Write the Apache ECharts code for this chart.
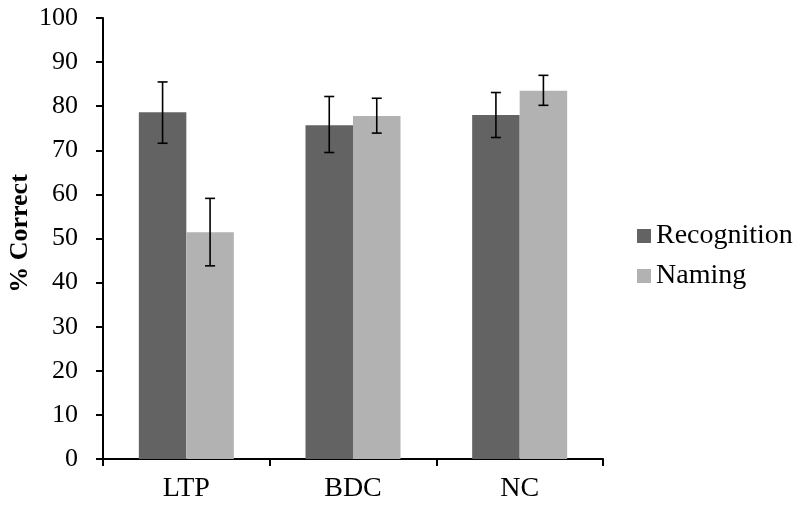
<!DOCTYPE html>
<html><head><meta charset="utf-8">
<script src="https://cdn.jsdelivr.net/npm/echarts@6/dist/echarts.min.js"></script>
<style>html,body{margin:0;padding:0;background:#fff}#c{width:800px;height:507px}</style>
</head><body><div id="c"></div>
<script>
const categories = ['LTP', 'BDC', 'NC'];
const recognition = [78.6, 75.7, 78.0];
const naming = [51.4, 77.8, 83.5];
const recognitionLow = [71.6, 69.5, 72.9];
const recognitionHigh = [85.5, 82.2, 83.1];
const namingLow = [43.8, 73.9, 80.2];
const namingHigh = [59.1, 81.8, 87.0];
const yTicks = [0, 10, 20, 30, 40, 50, 60, 70, 80, 90, 100];

const BAR_W = 47.5;
const font = 'Liberation Serif, Times New Roman, serif';

function errSeries(low, high, sign) {
  return {
    type: 'custom',
    silent: true,
    z: 10,
    data: categories.map((c, i) => [i, low[i], high[i]]),
    renderItem: function (params, api) {
      const i = api.value(0);
      const p1 = api.coord([i, api.value(1)]);
      const p2 = api.coord([i, api.value(2)]);
      const x = p1[0] + sign * BAR_W / 2;
      const cap = 5;
      const st = { stroke: '#000', lineWidth: 1.6 };
      return {
        type: 'group',
        children: [
          { type: 'line', shape: { x1: x, y1: p1[1], x2: x, y2: p2[1] }, style: st },
          { type: 'line', shape: { x1: x - cap, y1: p1[1], x2: x + cap, y2: p1[1] }, style: st },
          { type: 'line', shape: { x1: x - cap, y1: p2[1], x2: x + cap, y2: p2[1] }, style: st }
        ]
      };
    }
  };
}

const chart = echarts.init(document.getElementById('c'));
chart.setOption({
  animation: false,
  backgroundColor: '#fff',
  grid: { left: 103, right: 197, top: 18, bottom: 48, containLabel: false, outerBoundsMode: 'none' },
  legend: {
    orient: 'vertical',
    left: 632,
    top: 217,
    itemWidth: 14,
    itemHeight: 14,
    itemGap: 12,
    icon: 'rect',
    data: ['Recognition', 'Naming'],
    textStyle: { fontFamily: font, fontSize: 28, color: '#000', padding: [0, 0, 0, 0] }
  },
  xAxis: {
    type: 'category',
    data: categories,
    axisLine: { lineStyle: { color: '#000', width: 2 } },
    axisTick: { show: true, length: 7, lineStyle: { color: '#000', width: 2 } },
    axisLabel: { fontFamily: font, fontSize: 28, color: '#000', margin: 16 },
    splitLine: { show: false }
  },
  yAxis: {
    type: 'value',
    min: 0, max: 100, interval: 10,
    name: '% Correct',
    nameLocation: 'middle',
    nameGap: 70,
    nameMoveOverlap: false,
    nameTextStyle: { fontFamily: font, fontSize: 26, fontWeight: 'bold', color: '#000', padding: [0, 0, 0, 10] },
    axisLine: { show: true, lineStyle: { color: '#000', width: 2 } },
    axisTick: { show: true, length: 7, lineStyle: { color: '#000', width: 2 } },
    axisLabel: { fontFamily: font, fontSize: 26, color: '#000', margin: 25,
      formatter: v => yTicks.includes(v) ? String(v) : '' },
    splitLine: { show: false }
  },
  series: [
    { name: 'Recognition', type: 'bar', data: recognition, barWidth: BAR_W, barGap: '0%',
      itemStyle: { color: '#636363' } },
    { name: 'Naming', type: 'bar', data: naming, barWidth: BAR_W, barGap: '0%',
      itemStyle: { color: '#b2b2b2' } },
    errSeries(recognitionLow, recognitionHigh, -1),
    errSeries(namingLow, namingHigh, 1)
  ]
});
</script></body></html>
